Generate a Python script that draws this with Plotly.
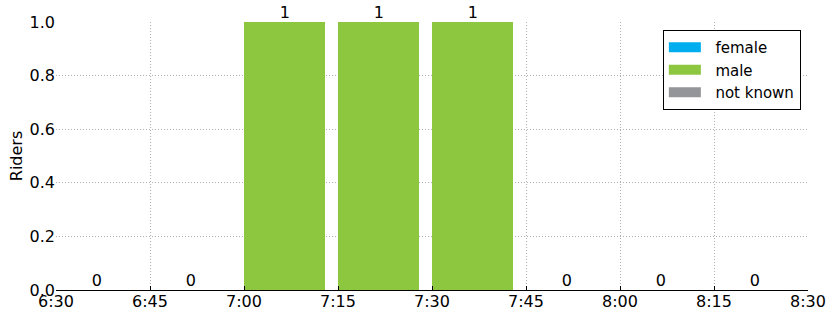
import plotly.graph_objects as go
import datetime as _dt

bin_starts = ["6:30", "6:45", "7:00", "7:15", "7:30", "7:45", "8:00", "8:15"]
female = [0, 0, 0, 0, 0, 0, 0, 0]
male = [0, 0, 1, 1, 1, 0, 0, 0]
not_known = [0, 0, 0, 0, 0, 0, 0, 0]
tick_labels = ["6:30", "6:45", "7:00", "7:15", "7:30", "7:45", "8:00", "8:15", "8:30"]

DAY = "2015-06-01 "
def to_dt(s):
    h, m = s.split(":")
    return f"{DAY}{int(h):02d}:{m}:00"

x = [to_dt(s) for s in bin_starts]
ticks = [to_dt(s) for s in tick_labels]
BIN_MS = 13 * 60 * 1000
totals = [f + m + n for f, m, n in zip(female, male, not_known)]

FONT = "DejaVu Sans"
fig = go.Figure()
series = [("female", female, "#00AEEF"),
          ("male", male, "#8DC63F"),
          ("not known", not_known, "#939598")]
for name, vals, col in series:
    fig.add_trace(go.Bar(x=x, y=vals, name=name, width=[BIN_MS] * len(x),
                         offset=0, marker=dict(color=col, line=dict(width=0)),
                         legendgroup=name, showlegend=False))
# legend swatches (wide rectangles like the reference)
for name, vals, col in series:
    fig.add_trace(go.Scatter(x=[None], y=[None], mode="lines", name="\u00a0\u00a0" + name,
                             legendgroup=name, line=dict(color=col, width=12)))

centers = [(_dt.datetime.strptime(v, "%Y-%m-%d %H:%M:%S") + _dt.timedelta(minutes=6.5)).strftime("%Y-%m-%d %H:%M:%S") for v in x]
fig.add_trace(go.Scatter(x=centers, y=totals, mode="text", text=[str(t) for t in totals],
                         textposition="top center", showlegend=False, cliponaxis=False,
                         textfont=dict(family=FONT, size=16, color="black"), hoverinfo="skip"))

fig.update_layout(
    width=830, height=311,
    margin=dict(l=56, r=22, t=22, b=21, autoexpand=False),
    barmode="stack",
    plot_bgcolor="white", paper_bgcolor="white",
    font=dict(family=FONT, size=16, color="black"),
    legend=dict(x=0.807, y=0.97, xanchor="left", yanchor="top",
                bordercolor="black", borderwidth=1, bgcolor="white",
                font=dict(family=FONT, size=15), traceorder="normal",
                itemwidth=32, tracegroupgap=0),
    showlegend=True,
)
GRID = "#b0b0b0"
fig.update_xaxes(type="date", range=[ticks[0], ticks[-1]], tickvals=ticks, ticktext=tick_labels,
                 showgrid=True, gridcolor=GRID, griddash="1px,2px", gridwidth=1,
                 showline=True, linecolor="black", linewidth=1, automargin=False,
                 ticks="inside", ticklen=4, tickcolor="black", zeroline=False,
                 ticklabelstandoff=-3,
                 tickfont=dict(family=FONT, size=16))
fig.update_yaxes(range=[0, 1.0], tickvals=[0, 0.2, 0.4, 0.6, 0.8, 1.0],
                 ticktext=["0.0", "0.2", "0.4", "0.6", "0.8", "1.0"],
                 showgrid=True, gridcolor=GRID, griddash="1px,2px", gridwidth=1,
                 showline=False, zeroline=False, ticks="", automargin=False,
                 title=dict(text="Riders", font=dict(family=FONT, size=16), standoff=2),
                 tickfont=dict(family=FONT, size=16))

fig.write_html("out.html", config={"displayModeBar": False},
               post_script="document.body.style.margin='0';document.body.style.overflow='hidden';")
